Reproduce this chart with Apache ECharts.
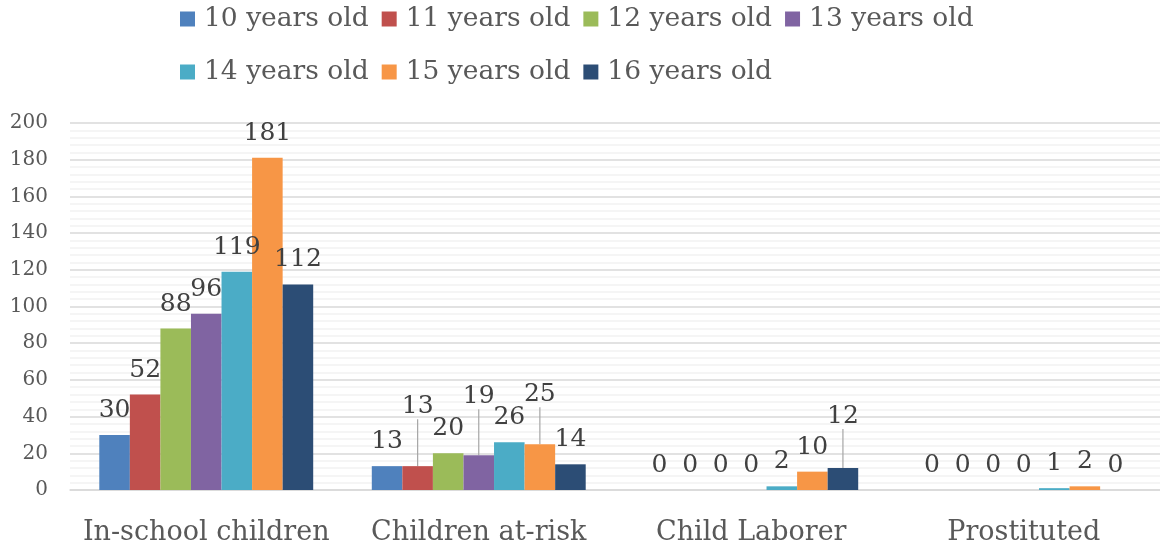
<!DOCTYPE html>
<html>
<head>
<meta charset="utf-8">
<script src="https://cdn.jsdelivr.net/npm/echarts@6/dist/echarts.min.js"></script>
<style>
  html, body { margin: 0; padding: 0; background: #ffffff; }
  #chart { width: 1160px; height: 550px; }
</style>
</head>
<body>
<div id="chart"></div>
<script>
// Group categories along the x axis
const categories = ['In-school children', 'Children at-risk', 'Child Laborer', 'Prostituted'];

// Counts per age group, one value per category
const age10 = [30, 13, 0, 0];
const age11 = [52, 13, 0, 0];
const age12 = [88, 20, 0, 0];
const age13 = [96, 19, 0, 0];
const age14 = [119, 26, 2, 1];
const age15 = [181, 25, 10, 2];
const age16 = [112, 14, 12, 0];

const seriesNames = ['10 years old', '11 years old', '12 years old', '13 years old',
                     '14 years old', '15 years old', '16 years old'];
const seriesValues = [age10, age11, age12, age13, age14, age15, age16];
const colors = ['#4F81BD', '#C0504D', '#9BBB59', '#8064A2', '#4BACC6', '#F79646', '#2C4D75'];

// Value axis ticks
const yTicks = [0, 20, 40, 60, 80, 100, 120, 140, 160, 180, 200];

// Labels lifted above crowded neighbours (series index -> category index -> pixels), drawn with a leader line
const labelLift = { 1: { 1: 35 }, 3: { 1: 34 }, 5: { 1: 25 }, 6: { 2: 27 } };

const FONT = 'DejaVu Serif';

const series = seriesNames.map((name, si) => ({
  name: name,
  type: 'bar',
  barGap: '0%',
  barCategoryGap: '21.5%',
  data: seriesValues[si].map((v, ci) => {
    const lifted = !!(labelLift[si] && labelLift[si][ci]);
    return { value: v, labelLine: { show: lifted } };
  }),
  itemStyle: { color: colors[si] },
  label: {
    show: true,
    position: 'top',
    distance: 12,
    fontFamily: FONT,
    fontSize: 25,
    color: '#404040'
  },
  labelLine: {
    show: false,
    lineStyle: { color: '#A6A6A6', width: 1.2 }
  },
  labelLayout: function (params) {
    const lift = labelLift[si] && labelLift[si][params.dataIndex];
    if (lift) {
      return { dy: -lift };
    }
    return {};
  }
}));

const chart = echarts.init(document.getElementById('chart'), null, { renderer: 'canvas' });
chart.setOption({
  animation: false,
  backgroundColor: '#ffffff',
  legend: {
    data: seriesNames,
    left: 175,
    top: -6,
    width: 830,
    itemWidth: 15,
    itemHeight: 15,
    itemGap: 13,
    icon: 'rect',
    textStyle: {
      fontFamily: FONT,
      fontSize: 26.5,
      color: '#595959',
      lineHeight: 40,
      padding: [0, 0, 0, 4]
    }
  },
  grid: {
    left: 70,
    right: -6,
    top: 123,
    bottom: 60,
    containLabel: false
  },
  xAxis: {
    type: 'category',
    data: categories,
    axisTick: { show: false },
    axisLine: { show: true, lineStyle: { color: '#D9D9D9', width: 1.5 } },
    axisLabel: {
      interval: 0,
      fontFamily: FONT,
      fontSize: 27,
      color: '#595959',
      margin: 29
    }
  },
  yAxis: {
    type: 'value',
    min: yTicks[0],
    max: yTicks[yTicks.length - 1],
    interval: yTicks[1] - yTicks[0],
    axisLine: { show: false },
    axisTick: { show: false },
    axisLabel: {
      fontFamily: FONT,
      fontSize: 20,
      color: '#595959',
      margin: 22
    },
    splitLine: { show: true, lineStyle: { color: '#D9D9D9', width: 1.5 } },
    minorTick: { show: false, splitNumber: 5 },
    minorSplitLine: { show: true, lineStyle: { color: '#F2F2F2', width: 1.5 } }
  },
  series: series
});
</script>
</body>
</html>
